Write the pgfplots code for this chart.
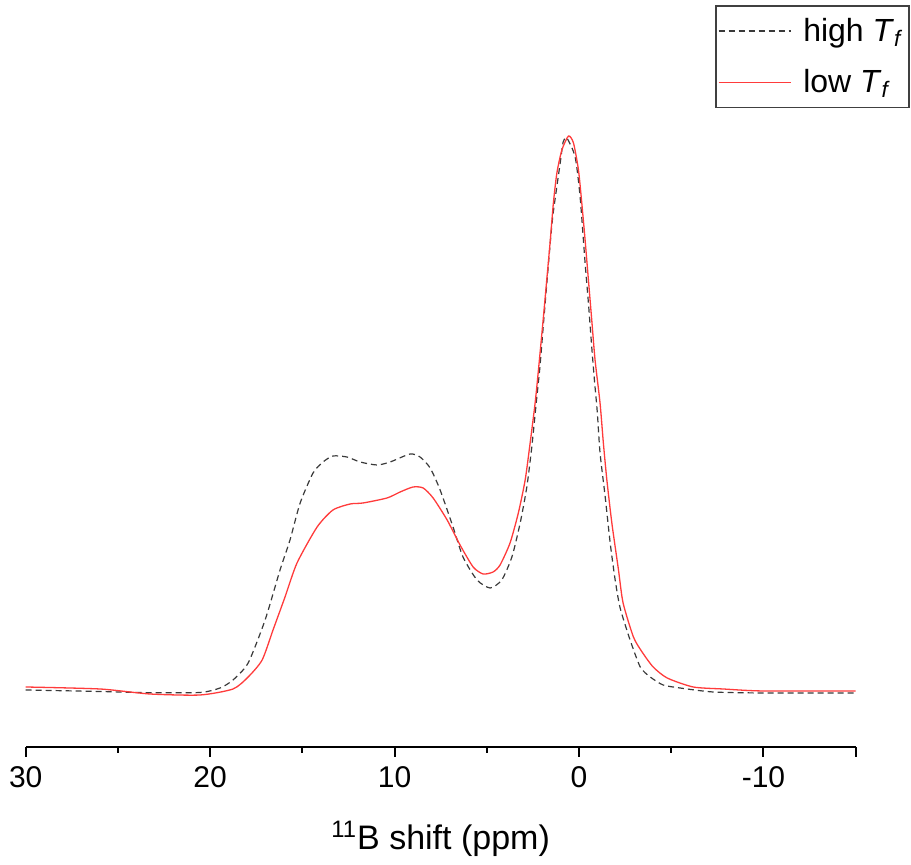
\documentclass[border=0pt]{standalone}
\usepackage{fontspec}
\setmainfont{Liberation Sans}
\usepackage{pgfplots}
\pgfplotsset{compat=1.18}
\definecolor{hiT}{HTML}{3A3A3A}
\definecolor{loT}{HTML}{FF3B3B}
\begin{document}
\begin{tikzpicture}
\useasboundingbox (-12.85pt,-59pt) rectangle (442.65pt,373.5pt);
\begin{axis}[
  scale only axis,
  width=415pt, height=373.5pt,
  xmin=-15, xmax=30, ymin=0, ymax=747,
  x dir=reverse,
  axis x line*=bottom,
  axis y line=none,
  axis line style={line width=1pt},
  xtick={30,20,10,0,-10},
  xticklabels={30,20,10,0,-10},
  minor xtick={25,15,5,-5,-15},
  extra x ticks={-15},
  extra x tick labels={},
  tick align=outside,
  major tick length=5pt,
  minor tick length=3pt,
  every tick/.style={black,line width=1pt},
  tick label style={font=\fontsize{15}{18}\selectfont},
  xticklabel style={yshift=-1pt},
  xlabel={\textsuperscript{11}B shift (ppm)},
  xlabel style={font=\fontsize{17}{20}\selectfont, yshift=0pt},
  clip=false,
  legend style={at={(1.0655,0.993)}, anchor=north east, draw=black!75, line width=0.8pt,
    font=\fontsize{16}{19}\selectfont, row sep=8.6pt, inner xsep=1pt, inner ysep=4pt,
    cells={anchor=west}},
  legend image code/.code={\draw[#1, line width=0.75pt] (0pt,0pt) -- (36pt,0pt);},
]
\addplot[hiT, line width=0.6pt, dash pattern=on 3pt off 2pt, smooth, tension=0.4] coordinates {
(30.00,57) (25.97,55.5) (23.26,54.3) (20.55,54.5) (19.46,59) (18.76,67) (17.94,84)
(17.02,127) (16.21,177) (15.67,207) (15.12,244) (14.42,274) (13.88,285) (13.34,291)
(12.58,290) (11.87,285) (10.95,282) (10.24,285) (9.16,293) (8.62,290) (8.07,279)
(7.53,257) (6.83,220) (6.29,190) (5.53,167) (4.82,159) (4.19,167) (3.64,190)
(3.19,224) (2.83,260) (2.56,300) (2.32,344) (2.12,380) (1.92,425) (1.57,502)
(1.40,534) (1.02,584) (0.86,605) (0.66,609) (0.21,590) (-0.06,550) (-0.33,484)
(-0.51,444) (-0.69,400) (-0.83,368) (-0.99,335) (-1.14,294) (-1.42,250) (-1.69,204)
(-1.96,167) (-2.23,139) (-2.77,107) (-3.32,80) (-3.86,70) (-4.56,62) (-5.48,59)
(-7.27,55) (-9.98,54) (-15.0,54)
};
\addlegendentry{\hspace{4pt}high \textit{T}\textsubscript{\textit{f}}}
\addplot[loT, line width=0.65pt, smooth, tension=0.4] coordinates {
(30.00,60) (25.97,58) (23.26,53) (20.55,52) (18.76,58) (17.94,70) (17.18,87)
(16.59,117) (15.94,150) (15.29,184) (14.20,220) (13.34,237) (12.41,243) (11.71,244)
(10.41,249) (9.70,255) (9.00,260) (8.45,259) (7.91,249) (7.15,227) (6.45,202)
(5.74,180) (5.20,173) (4.66,175) (4.28,182) (3.74,204) (3.29,234) (2.92,267)
(2.65,304) (2.38,344) (2.20,377) (1.93,430) (1.75,467) (1.57,504) (1.39,544)
(1.20,574) (0.93,597) (0.57,611) (0.30,604) (0.03,577) (-0.15,544) (-0.33,507)
(-0.51,467) (-0.69,427) (-0.87,387) (-1.14,344) (-1.32,304) (-1.51,267) (-1.78,224)
(-2.14,177) (-2.39,144) (-2.95,110) (-3.42,95) (-4.02,80) (-4.78,69) (-6.19,60)
(-7.82,58) (-9.98,56) (-15.0,56)
};
\addlegendentry{\hspace{4pt}low \textit{T}\textsubscript{\textit{f}}}
\end{axis}
\end{tikzpicture}
\end{document}
